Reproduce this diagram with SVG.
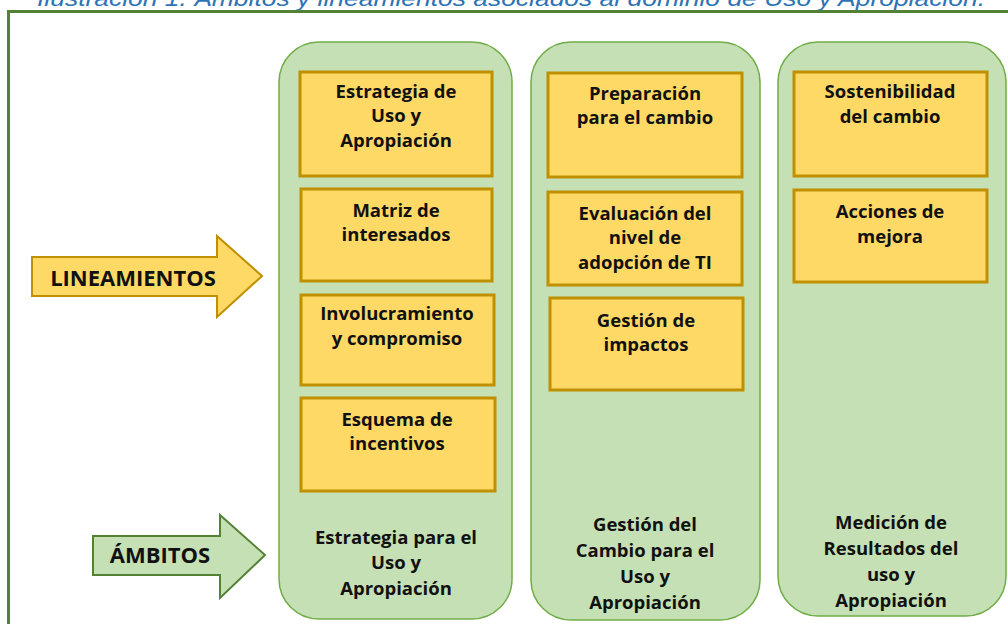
<svg xmlns="http://www.w3.org/2000/svg" width="1008" height="624" viewBox="0 0 1008 624">
<style>
.t{font-family:"Open Sans","Liberation Sans",sans-serif;font-weight:700;font-size:18.5px;fill:#111;text-anchor:middle}
.a{font-size:22px}
.col{fill:#C5E0B4;stroke:#70AD47;stroke-width:1.5}
.box{fill:#FFD966;stroke:#BF9000;stroke-width:3}
</style>
<rect width="1008" height="624" fill="#fff"/>
<text x="37" y="6" textLength="948" lengthAdjust="spacingAndGlyphs" font-family="Liberation Sans, sans-serif" font-style="italic" font-size="22" fill="#2E74B5">Ilustración 1. Ámbitos y lineamientos asociados al dominio de Uso y Apropiación.</text>
<rect id="frame" x="8.5" y="11.5" width="1020" height="640" fill="none" stroke="#538135" stroke-width="3"/>

<g id="arrows">
<g id="lineamientos">
<path d="M32,257 H217 V236 L262,276 L217,317 V296 H32 Z" fill="#FFD966" stroke="#BF9000" stroke-width="2"/>
<text class="t a" x="133" y="286">LINEAMIENTOS</text>
</g>
<g id="ambitos">
<path d="M93,536 H220 V515 L265,555 L220,598 V575 H93 Z" fill="#C5E0B4" stroke="#548235" stroke-width="2"/>
<text class="t a" x="160" y="563">ÁMBITOS</text>
</g>
</g>

<g id="col1">
<rect class="col" x="279" y="42" width="233" height="577" rx="40"/>
<rect class="box" x="300" y="72" width="192" height="104"/>
<text class="t" x="396" y="98">Estrategia de</text>
<text class="t" x="396" y="122">Uso y</text>
<text class="t" x="396" y="147">Apropiación</text>
<rect class="box" x="301" y="189" width="191" height="92"/>
<text class="t" x="396" y="217">Matriz de</text>
<text class="t" x="396" y="241">interesados</text>
<rect class="box" x="301" y="295" width="193" height="90"/>
<text class="t" x="397" y="320">Involucramiento</text>
<text class="t" x="397" y="345">y compromiso</text>
<rect class="box" x="301" y="398" width="194" height="93"/>
<text class="t" x="397" y="426">Esquema de</text>
<text class="t" x="397" y="450">incentivos</text>
<text class="t" x="396" y="544">Estrategia para el</text>
<text class="t" x="396" y="569">Uso y</text>
<text class="t" x="396" y="595">Apropiación</text>
</g>

<g id="col2">
<rect class="col" x="531" y="42" width="229" height="578" rx="40"/>
<rect class="box" x="548" y="73" width="194" height="104"/>
<text class="t" x="645" y="100">Preparación</text>
<text class="t" x="645" y="124">para el cambio</text>
<rect class="box" x="548" y="192" width="194" height="93"/>
<text class="t" x="645" y="220">Evaluación del</text>
<text class="t" x="645" y="244">nivel de</text>
<text class="t" x="645" y="269">adopción de TI</text>
<rect class="box" x="550" y="298" width="193" height="92"/>
<text class="t" x="646" y="327">Gestión de</text>
<text class="t" x="646" y="351">impactos</text>
<text class="t" x="645" y="531">Gestión del</text>
<text class="t" x="645" y="557">Cambio para el</text>
<text class="t" x="645" y="583">Uso y</text>
<text class="t" x="645" y="609">Apropiación</text>
</g>

<g id="col3">
<rect class="col" x="778" y="42" width="228" height="574" rx="40"/>
<rect class="box" x="794" y="72" width="193" height="104"/>
<text class="t" x="890" y="98">Sostenibilidad</text>
<text class="t" x="890" y="123">del cambio</text>
<rect class="box" x="794" y="190" width="193" height="92"/>
<text class="t" x="890" y="218">Acciones de</text>
<text class="t" x="890" y="243">mejora</text>
<text class="t" x="891" y="529">Medición de</text>
<text class="t" x="891" y="555">Resultados del</text>
<text class="t" x="891" y="581">uso y</text>
<text class="t" x="891" y="607">Apropiación</text>
</g>
</svg>
